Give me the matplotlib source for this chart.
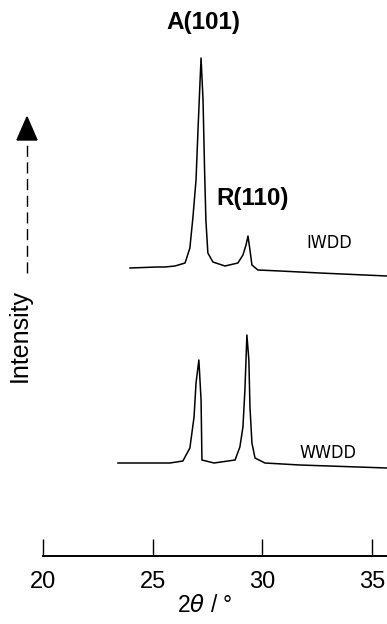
import matplotlib
matplotlib.use("Agg")
from matplotlib import pyplot as plt

# 2theta positions and relative intensity
iwdd_2theta = [23.97, 25.20, 25.56, 26.02, 26.48, 26.70, 26.84, 26.98, 27.07, 27.16,
               27.21, 27.30, 27.37, 27.43, 27.52, 27.75, 28.30, 28.89, 29.12, 29.26,
               29.35, 29.44, 29.53, 29.80, 30.81, 32.63, 35.69]
iwdd_int = [288, 289, 289, 290, 293, 308, 339, 376, 426, 473,
            498, 456, 386, 336, 303, 294, 290, 293, 301, 311,
            320, 306, 291, 286, 285, 283, 280]

wwdd_2theta = [23.42, 25.79, 26.38, 26.70, 26.89, 26.98, 27.11, 27.21, 27.25, 27.80,
               28.76, 28.98, 29.12, 29.21, 29.30, 29.39, 29.44, 29.53, 29.67, 30.12,
               31.72, 35.69]
wwdd_int = [93, 93, 95, 108, 139, 173, 196, 156, 96, 93,
            96, 109, 129, 166, 221, 196, 149, 113, 98, 93,
            91, 88]

x_ticks = [20, 25, 30, 35]
sample_labels = ["IWDD", "WWDD"]
peak_labels = ["A(101)", "R(110)"]

plt.rcParams['font.family'] = ['Liberation Sans', 'DejaVu Sans']

fig = plt.figure(figsize=(3.87, 6.24), dpi=100)
ax = fig.add_axes([0, 0, 1, 1])
ax.patch.set_alpha(0)

ax.plot(iwdd_2theta, iwdd_int, color="black", lw=1.1)
ax.plot(wwdd_2theta, wwdd_int, color="black", lw=1.1)

ax.set_xlim(18.04, 35.69)
ax.set_ylim(-68, 556)

# only the bottom axis, ticks pointing up
for side in ["left", "right", "top"]:
    ax.spines[side].set_visible(False)
ax.spines["bottom"].set_position(("data", 0))
ax.spines["bottom"].set_bounds(20, 35.69)
ax.spines["bottom"].set_linewidth(1.4)
ax.set_yticks([])
ax.set_xticks(x_ticks)
ax.tick_params(axis="x", direction="in", length=12, width=1.0, pad=11,
               labelsize=17)

# sample names next to each trace
narrow = ['Liberation Sans Narrow', 'DejaVu Sans']
ax.text(33.04, 556 - 243, sample_labels[0], fontsize=13, ha="center", va="center",
        family=narrow, fontstretch="condensed")
ax.text(33.00, 556 - 453, sample_labels[1], fontsize=13, ha="center", va="center",
        family=narrow, fontstretch="condensed")

# peak assignments
fig.text(203 / 387, 1 - 22 / 624, peak_labels[0], fontsize=17.5, fontweight="bold",
         ha="center", va="center")
fig.text(253 / 387, 1 - 198 / 624, peak_labels[1], fontsize=17.5, fontweight="bold",
         ha="center", va="center")

# axis titles
fig.text(205 / 387, 1 - 606 / 624, r"2$\theta$ / °", fontsize=16.5,
         ha="center", va="center")
fig.text(20 / 387, 1 - 336 / 624, "Intensity", fontsize=18, rotation=90,
         ha="center", va="center")

# dashed arrow for intensity
fig.add_artist(plt.Line2D([27 / 387, 27 / 387], [1 - 273 / 624, 1 - 140 / 624],
                          transform=fig.transFigure, color="black", lw=1.0,
                          linestyle=(0, (8, 4))))
fig.add_artist(plt.Polygon([[17 / 387, 1 - 140 / 624], [37 / 387, 1 - 140 / 624],
                            [27 / 387, 1 - 117 / 624]],
                           closed=True, transform=fig.transFigure, color="black"))

fig.savefig("out.png", dpi=100)
